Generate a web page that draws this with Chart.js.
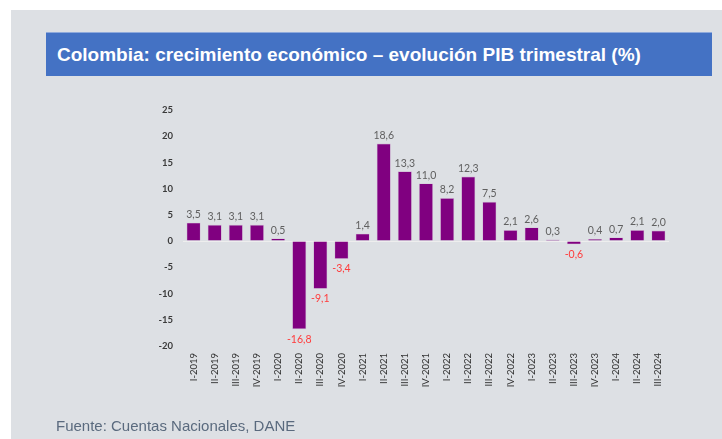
<!DOCTYPE html>
<html>
<head>
<meta charset="utf-8">
<script src="https://cdn.jsdelivr.net/npm/chart.js@4.4.1/dist/chart.umd.min.js"></script>
<style>
  html, body { margin: 0; padding: 0; background: #fff; }
  body { width: 722px; height: 439px; position: relative; overflow: hidden; }
  #panel { position: absolute; left: 11px; top: 10px; right: 0; bottom: 0; background: #dde0e4; }
  #title {
    position: absolute; left: 46px; top: 32px; width: 666px; height: 44px;
    background: #4472c4; border-top: 1px solid #8faadc; box-sizing: border-box;
    color: #fff; font: bold 19px "Liberation Sans", Arial, sans-serif;
    display: flex; align-items: center; padding-left: 11px;
  }
  #source {
    position: absolute; left: 56px; top: 417px;
    color: #5a6a7e; font: 15px "Liberation Sans", Arial, sans-serif;
  }
  #wrap { position: absolute; left: 0; top: 0; width: 722px; height: 439px; }
</style>
</head>
<body>
<div id="panel"></div>
<div id="title">Colombia: crecimiento económico – evolución PIB trimestral (%)</div>
<div id="wrap"><canvas id="chart" width="722" height="439"></canvas></div>
<div id="source">Fuente: Cuentas Nacionales, DANE</div>
<script>
const quarters = [
  "I-2019", "II-2019", "III-2019", "IV-2019",
  "I-2020", "II-2020", "III-2020", "IV-2020",
  "I-2021", "II-2021", "III-2021", "IV-2021",
  "I-2022", "II-2022", "III-2022", "IV-2022",
  "I-2023", "II-2023", "III-2023", "IV-2023",
  "I-2024", "II-2024", "III-2024"
];
const growth = [
  3.5, 3.1, 3.1, 3.1,
  0.5, -16.8, -9.1, -3.4,
  1.4, 18.6, 13.3, 11.0,
  8.2, 12.3, 7.5, 2.1,
  2.6, 0.3, -0.6, 0.4,
  0.7, 2.1, 2.0
];
const yMin = -20;
const yMax = 25;
const yStep = 5;

// value labels above / below each bar, comma decimals
const valueLabels = {
  id: "valueLabels",
  afterDatasetsDraw(chart) {
    const ctx = chart.ctx;
    const meta = chart.getDatasetMeta(0);
    ctx.save();
    ctx.font = "10.5px Lato, sans-serif";
    ctx.textAlign = "center";
    ctx.textBaseline = "middle";
    meta.data.forEach((bar, i) => {
      const v = growth[i];
      const txt = v.toFixed(1).replace(".", ",");
      if (v >= 0) {
        ctx.fillStyle = "#606060";
        ctx.fillText(txt, bar.x, bar.y - 8);
      } else {
        ctx.fillStyle = "#ff3b3b";
        ctx.fillText(txt, bar.x, bar.y + 10);
      }
    });
    ctx.restore();
  }
};

new Chart(document.getElementById("chart"), {
  type: "bar",
  data: {
    labels: quarters,
    datasets: [{
      data: growth,
      backgroundColor: "#800080",
      borderColor: "rgba(190,120,190,0.5)",
      borderWidth: 0.6,
      barPercentage: 0.66,
      categoryPercentage: 1
    }]
  },
  options: {
    responsive: false,
    animation: false,
    layout: { padding: { left: 143, right: 53, top: 110, bottom: 43 } },
    plugins: { legend: { display: false }, tooltip: { enabled: false } },
    scales: {
      x: {
        grid: { display: false, drawTicks: false },
        border: { display: false },
        ticks: {
          color: "#333333",
          font: { family: "Lato", size: 9.5 },
          minRotation: 90,
          maxRotation: 90,
          padding: 7,
          autoSkip: false
        },
        afterFit(scale) { scale.height = 50; }
      },
      y: {
        min: yMin,
        max: yMax,
        grid: {
          drawTicks: false,
          color: (c) => (c.tick && c.tick.value === 0 ? "#eeeeee" : "rgba(0,0,0,0)")
        },
        border: { display: false },
        ticks: {
          stepSize: yStep,
          color: "#3a3a3a",
          font: { family: "Lato", size: 9.5, weight: "bold" },
          padding: 10
        },
        afterFit(scale) { scale.width = 40; }
      }
    }
  },
  plugins: [valueLabels]
});
</script>
</body>
</html>
